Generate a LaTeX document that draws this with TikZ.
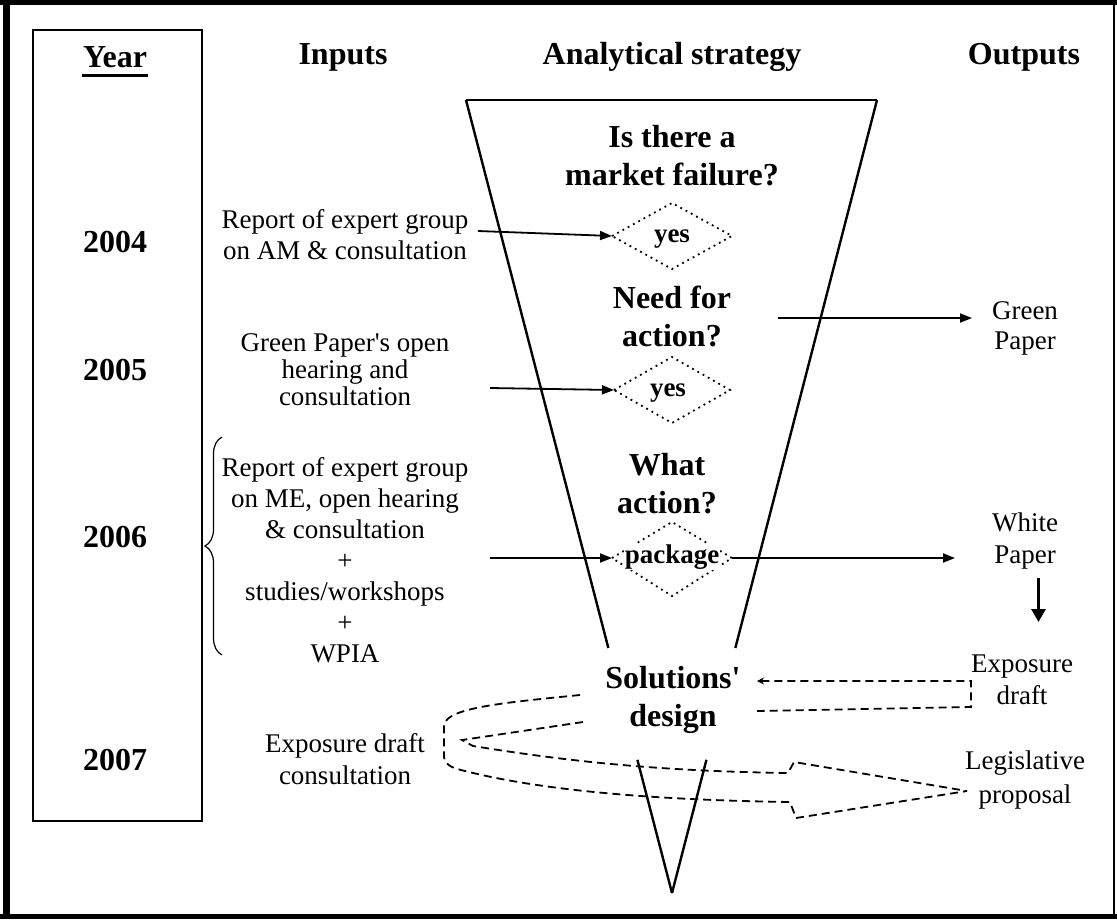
\documentclass[tikz,border=0pt]{standalone}
\usepackage{fontspec}
\setmainfont{Liberation Serif}
\usetikzlibrary{arrows.meta,decorations.pathreplacing,calc}
\begin{document}
\begin{tikzpicture}[x=1pt,y=-1pt,
  reg/.style={font=\fontsize{27}{31}\selectfont, align=center, inner sep=0pt},
  bld/.style={font=\bfseries\fontsize{32}{38}\selectfont, align=center, inner sep=0pt},
  dlab/.style={font=\bfseries\fontsize{27}{30}\selectfont, inner sep=0pt},
  arr/.style={line width=1.8pt, -{Triangle[length=12pt,width=9pt]}},
  dotl/.style={line width=1.8pt, dash pattern=on 1.8pt off 4.2pt},
  dashl/.style={line width=1.8pt, dash pattern=on 8pt off 5pt},
  funnel/.style={line width=2.4pt},
]
\useasboundingbox (0,0) rectangle (1117,919);
\fill[white] (0,0) rectangle (1117,919);
% outer frame
\draw[line width=7pt] (6.5,0) -- (6.5,919);
\draw[line width=5pt] (0,2.5) -- (1117,2.5);
\draw[line width=4.5pt] (0,916.7) -- (1117,916.7);
\draw[line width=2pt] (1114,0) -- (1114,919);
% year box
\draw[line width=2pt] (33.3,30.3) rectangle (201.7,821.3);
\node[bld] (hYear) at (115,57) {Year};
\draw[line width=3pt] (82,75.5) -- (148,75.5);
\node[bld] (y2004) at (115,242) {2004};
\node[bld] (y2005) at (115,370) {2005};
\node[bld] (y2006) at (115,537) {2006};
\node[bld] (y2007) at (115,760) {2007};
% headers
\node[bld] (hIn) at (343,57) {Inputs};
\node[bld] (hAS) at (672,57) {Analytical strategy};
\node[bld] (hOut) at (1024,57) {Outputs};
% funnel
\coordinate (ftl) at (466,100);
\coordinate (ftr) at (877,100);
\coordinate (fb) at (672,893);
\draw[line width=2pt] (ftl) -- (ftr);
\draw[funnel] (ftl) -- ($(ftl)!0.691!(fb)$);
\draw[funnel] ($(ftl)!0.832!(fb)$) -- (fb);
\draw[funnel] (ftr) -- ($(ftr)!0.691!(fb)$);
\draw[funnel] ($(ftr)!0.832!(fb)$) -- (fb);
% questions
\node[bld] (q1) at (672,156) {Is there a\\market failure?};
\node[bld] (q2) at (672,316) {Need for\\action?};
\node[bld] (q3) at (667,484) {What\\action?};
\node[bld] (sol) at (673,700) {Solutions\textquotesingle\\design};
% diamonds
\coordinate (d1w) at (612,236); \coordinate (d1n) at (672,203);
\coordinate (d1e) at (732,236); \coordinate (d1s) at (672,269);
\draw[dotl] (d1w) -- (d1n) -- (d1e) -- (d1s) -- cycle;
\node[dlab] (l1) at (672,239) {yes};
\coordinate (d2w) at (614,390); \coordinate (d2n) at (672,357);
\coordinate (d2e) at (730,390); \coordinate (d2s) at (672,423);
\draw[dotl] (d2w) -- (d2n) -- (d2e) -- (d2s) -- cycle;
\node[dlab] (l2) at (668,393) {yes};
\coordinate (d3w) at (612,558); \coordinate (d3n) at (672,522);
\coordinate (d3e) at (732,558); \coordinate (d3s) at (672,596);
\draw[dotl] (d3w) -- (d3n) -- (d3e) -- (d3s) -- cycle;
\node[dlab, fill=white, inner sep=1pt] (l3) at (672,557) {package};
% inputs
\node[reg] (in1) at (345,235) {Report of expert group\\on AM \& consultation};
\node[reg, font=\fontsize{27}{27}\selectfont] (in2) at (345,370) {Green Paper\textquotesingle s open\\hearing and\\consultation};
\node[reg] (in3) at (345,560) {Report of expert group\\on ME, open hearing\\\& consultation\\+\\studies/workshops\\+\\WPIA};
\node[reg, font=\fontsize{27}{32}\selectfont] (in4) at (345,759) {Exposure draft\\consultation};
\draw[line width=1.2pt, decorate, decoration={brace, amplitude=17pt}] (222,655) -- (222,437);
% outputs
\node[reg, font=\fontsize{27}{30}\selectfont] (o1) at (1025,328) {Green\\Paper};
\node[reg, font=\fontsize{27}{32}\selectfont] (o2) at (1025,541) {White\\Paper};
\node[reg, font=\fontsize{27}{32}\selectfont] (o3) at (1022,680) {Exposure\\draft};
\node[reg, font=\fontsize{27}{34}\selectfont] (o4) at (1025,780) {Legislative\\proposal};
% arrows
\coordinate (a1s) at (478,231);
\coordinate (a2s) at (490,388);
\coordinate (a3s) at (490,558);
\coordinate (gps) at (778,318);
\coordinate (gpe) at (972,318);
\coordinate (wpe) at (955,558);
\coordinate (dns) at (1038.5,578);
\coordinate (dne) at (1038.5,622);
\draw[arr] (a1s) -- (d1w);
\draw[arr] (a2s) -- (d2w);
\draw[arr] (a3s) -- (d3w);
\draw[arr] (d3e) -- (wpe);
\draw[arr] (gps) -- (gpe);
\draw[line width=3pt, -{Triangle[length=13pt,width=14pt]}] (dns) -- (dne);
% exposure draft bracket
\draw[dashl, {Stealth[length=7pt,width=7pt]}-] (757,681) -- (971,681) -- (971,707) -- (757,711);
% U-turn block arrow to legislative proposal
\draw[dashl] (580,695) .. controls (500,703) and (447,708) .. (444,725) -- (444,757)
  .. controls (445,765) and (452,768) .. (465,771)
  .. controls (540,790) and (650,800) .. (790,802) -- (796,818) -- (967,791);
\draw[dashl] (583,722) -- (462,740) -- (473,746)
  .. controls (560,760) and (650,771) .. (788,773) -- (794,762) -- (967,791);
\end{tikzpicture}
\end{document}
